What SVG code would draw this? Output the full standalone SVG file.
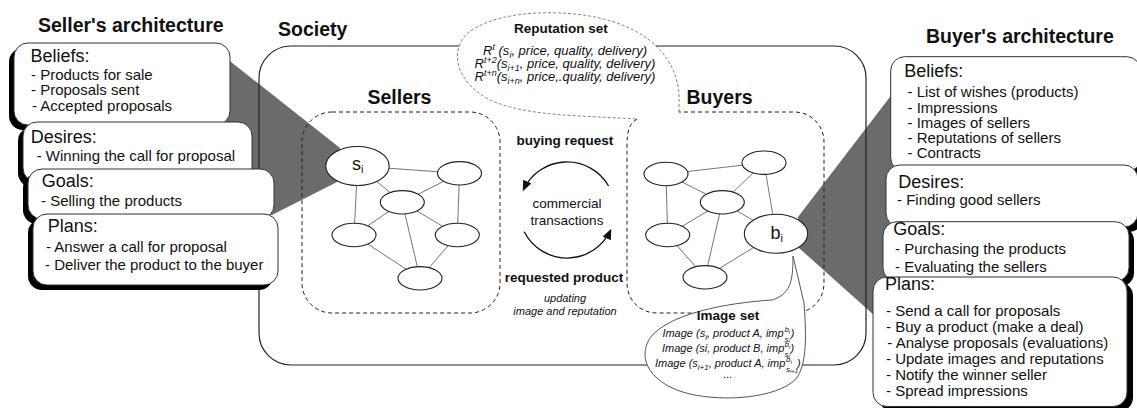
<svg xmlns="http://www.w3.org/2000/svg" width="1137" height="408" viewBox="0 0 1137 408">
<defs>
<style>
text { font-family: "Liberation Sans", Arial, sans-serif; fill: #111; }
.title { font-size: 19.5px; font-weight: bold; }
.hd { font-size: 18px; }
.it { font-size: 15px; }
.box { fill: #fff; stroke: #333; stroke-width: 1; }
.shadow { fill: #000; }
.wedge { fill: #6b6b6b; }
.node { fill: #fff; stroke: #222; stroke-width: 1.1; }
.edge { stroke: #666; stroke-width: 0.9; fill: none; }
.dash { fill: none; stroke: #222; stroke-width: 1; stroke-dasharray: 4 3; }
.bubble { fill: #fff; stroke: #666; stroke-width: 0.8; stroke-dasharray: 3 2; }
.ibubble { fill: #fff; stroke: #444; stroke-width: 0.9; }
.lbl { font-size: 13.5px; font-weight: bold; text-anchor: middle; }
.rep { font-size: 13px; font-style: italic; text-anchor: middle; }
.img { font-size: 11px; font-style: italic; }
.s8 { font-size: 8px; }
.s6 { font-size: 6px; }
.arc { fill: none; stroke: #111; stroke-width: 1.3; }
</style>
<marker id="arr" viewBox="0 0 12 10" refX="10" refY="5" markerWidth="11" markerHeight="9" markerUnits="userSpaceOnUse" orient="auto">
<path d="M0,0 L12,5 L0,10 z" fill="#111"/>
</marker>
</defs>

<!-- wedges -->
<polygon class="wedge" points="226,58 340,148 337,182 272,215 226,215"/>
<polygon class="wedge" points="798,217 893,93 893,278 875,316 799,248"/>

<!-- society -->
<g id="society">
<rect x="259" y="46" width="607" height="319" rx="32" fill="none" stroke="#222" stroke-width="1.2"/>
<text class="title" x="278" y="36">Society</text>
</g>

<!-- reputation set bubble -->
<g id="reputation-set">
<path class="bubble" d="M679,112 L679,95 C677,60 650,22 575,14 C520,9 475,20 462,40 C450,60 462,85 490,100 C515,111 545,114 580,116 L637,119"/>
<text class="lbl" x="561" y="33">Reputation set</text>
<text class="rep" x="565" y="55">R<tspan font-size="9" dy="-5">t</tspan><tspan dy="5"> (s</tspan><tspan font-size="9" dy="3">i</tspan><tspan dy="-3">, price, quality, delivery)</tspan></text>
<text class="rep" x="565" y="68">R<tspan font-size="9" dy="-5">t+2</tspan><tspan dy="5">(s</tspan><tspan font-size="9" dy="3">i+1</tspan><tspan dy="-3">, price, quality, delivery)</tspan></text>
<text class="rep" x="565" y="81">R<tspan font-size="9" dy="-5">t+n</tspan><tspan dy="5">(s</tspan><tspan font-size="9" dy="3">i+n</tspan><tspan dy="-3">, price,.quality, delivery)</tspan></text>
</g>

<!-- groups -->
<g id="sellers">
<rect class="dash" x="302" y="112" width="198" height="201" rx="30"/>
<text class="title" x="367.5" y="104">Sellers</text>
</g>
<g id="buyers">
<path class="dash" d="M637,119 C630,123 627,130 627,145 L627,283 C627,300 640,313 657,313 L794,313 C811,313 824,300 824,283 L824,142 C824,125 811,112 794,112 L679,112"/>
<text class="title" x="686.5" y="104">Buyers</text>
</g>

<!-- connectors -->
<g id="connectors">
<line class="edge" x1="357.5" y1="166" x2="459.5" y2="173.3"/>
<line class="edge" x1="357.5" y1="166" x2="402.3" y2="202.3"/>
<line class="edge" x1="357.5" y1="166" x2="354" y2="235"/>
<line class="edge" x1="459.5" y1="173.3" x2="402.3" y2="202.3"/>
<line class="edge" x1="459.5" y1="173.3" x2="457.3" y2="235"/>
<line class="edge" x1="402.3" y1="202.3" x2="354" y2="235"/>
<line class="edge" x1="402.3" y1="202.3" x2="457.3" y2="235"/>
<line class="edge" x1="402.3" y1="202.3" x2="420" y2="278.3"/>
<line class="edge" x1="354" y1="235" x2="420" y2="278.3"/>
<line class="edge" x1="457.3" y1="235" x2="420" y2="278.3"/>

<line class="edge" x1="666" y1="174" x2="764" y2="162.7"/>
<line class="edge" x1="666" y1="174" x2="722.3" y2="202.3"/>
<line class="edge" x1="666" y1="174" x2="667.7" y2="235"/>
<line class="edge" x1="764" y1="162.7" x2="722.3" y2="202.3"/>
<line class="edge" x1="764" y1="162.7" x2="776" y2="233.7"/>
<line class="edge" x1="722.3" y1="202.3" x2="667.7" y2="235"/>
<line class="edge" x1="722.3" y1="202.3" x2="776" y2="233.7"/>
<line class="edge" x1="722.3" y1="202.3" x2="705" y2="277.3"/>
<line class="edge" x1="667.7" y1="235" x2="705" y2="277.3"/>
<line class="edge" x1="776" y1="233.7" x2="705" y2="277.3"/>

<path class="arc" d="M608.6,186 A48,48 0 0 0 523.5,189.7" marker-end="url(#arr)"/>
<path class="arc" d="M524.2,231.8 A48,48 0 0 0 610.5,230.3" marker-end="url(#arr)"/>
</g>

<g id="transaction-labels">
<text class="lbl" x="565" y="145">buying request</text>
<text x="567" y="208" font-size="13.5" text-anchor="middle">commercial</text>
<text x="567" y="224.5" font-size="13.5" text-anchor="middle">transactions</text>
<text class="lbl" x="564" y="281.7">requested product</text>
<text x="565" y="301.7" font-size="11" font-style="italic" text-anchor="middle">updating</text>
<text x="565" y="315" font-size="11" font-style="italic" text-anchor="middle">image and reputation</text>
</g>

<!-- seller nodes -->
<g id="node-si"><ellipse class="node" cx="357.5" cy="166" rx="31.7" ry="19.5"/><text x="352" y="170" font-size="18">s<tspan font-size="11" dy="3">i</tspan></text></g>
<g id="node-s2"><ellipse class="node" cx="459.5" cy="173.3" rx="22" ry="11.7"/></g>
<g id="node-s3"><ellipse class="node" cx="402.3" cy="202.3" rx="22" ry="11.7"/></g>
<g id="node-s4"><ellipse class="node" cx="354" cy="235" rx="22" ry="11.7"/></g>
<g id="node-s5"><ellipse class="node" cx="457.3" cy="235" rx="22" ry="11.7"/></g>
<g id="node-s6"><ellipse class="node" cx="420" cy="278.3" rx="22" ry="11.7"/></g>

<!-- buyer nodes -->
<g id="node-b1"><ellipse class="node" cx="666" cy="174" rx="22" ry="11.7"/></g>
<g id="node-b2"><ellipse class="node" cx="764" cy="162.7" rx="22" ry="11.7"/></g>
<g id="node-b3"><ellipse class="node" cx="722.3" cy="202.3" rx="22" ry="11.7"/></g>
<g id="node-b4"><ellipse class="node" cx="667.7" cy="235" rx="22" ry="11.7"/></g>
<g id="node-bi"><ellipse class="node" cx="776" cy="233.7" rx="31.7" ry="19.5"/><text x="770.5" y="238.5" font-size="18">b<tspan font-size="11" dy="3">i</tspan></text></g>
<g id="node-b6"><ellipse class="node" cx="705" cy="277.3" rx="22" ry="11.7"/></g>

<!-- image set bubble -->
<g id="image-set">
<path class="ibubble" d="M793,256 C793,283 790,294 772,300 C725,303 668,314 650,338 C636,360 652,385 690,394 C725,402 775,398 795,380 C808,366 806,330 804,303 Z"/>
<text class="lbl" x="728" y="320">Image set</text>
<text class="img" x="662.4" y="337">Image (s</text>
<text class="img s8" x="705.2" y="340">i</text>
<text class="img" x="707" y="337">, product A, imp</text>
<text class="img s8" x="784.4" y="332">b</text>
<text class="img s6" x="788.8" y="333.5">i</text>
<text class="img s8" x="784.4" y="341.5">s</text>
<text class="img s6" x="788.4" y="343">i</text>
<text class="img" x="790.8" y="337">)</text>

<text class="img" x="662" y="352">Image (si, product B, imp</text>
<text class="img s8" x="784.5" y="347">b</text>
<text class="img s6" x="788.9" y="348.5">i</text>
<text class="img s8" x="784.5" y="356.5">s</text>
<text class="img s6" x="788.5" y="358">i</text>
<text class="img" x="790.5" y="352"> )</text>

<text class="img" x="655" y="367">Image (s</text>
<text class="img s8" x="697.8" y="370">i+1</text>
<text class="img" x="708.7" y="367">, product A, imp</text>
<text class="img s8" x="786" y="362">b</text>
<text class="img s6" x="790.4" y="363.5">i</text>
<text class="img s8" x="786" y="371.5">s</text>
<text class="img s6" x="790" y="373">i+1</text>
<text class="img" x="797" y="367"> )</text>
<text class="img" x="728" y="378" text-anchor="middle">...</text>
</g>

<!-- seller architecture -->
<g id="seller-architecture">
<text class="title" x="38" y="32">Seller's architecture</text>
<g id="seller-beliefs">
<rect class="shadow" x="9" y="48" width="217" height="82" rx="14"/>
<rect class="box" x="14" y="43" width="216" height="82" rx="14"/>
<text class="hd" x="30.5" y="61.7">Beliefs:</text>
<text class="it" x="31" y="80">- Products for sale</text>
<text class="it" x="31" y="95">- Proposals sent</text>
<text class="it" x="32" y="110.7">- Accepted proposals</text>
</g>
<g id="seller-desires">
<rect class="shadow" x="18" y="127" width="230" height="60" rx="14"/>
<rect class="box" x="23" y="122" width="229" height="60" rx="14"/>
<text class="hd" x="30.7" y="143.3">Desires:</text>
<text class="it" x="36.7" y="160.7">- Winning the call for proposal</text>
</g>
<g id="seller-goals">
<rect class="shadow" x="23" y="174" width="246" height="50" rx="14"/>
<rect class="box" x="28" y="169" width="246" height="50" rx="14"/>
<text class="hd" x="41.7" y="187.3">Goals:</text>
<text class="it" x="41" y="205.7">- Selling the products</text>
</g>
<g id="seller-plans">
<rect class="shadow" x="28" y="219" width="245" height="71" rx="14"/>
<rect class="box" x="33" y="214" width="245" height="71" rx="14"/>
<text class="hd" x="47.7" y="231.7">Plans:</text>
<text class="it" x="46" y="252.3">- Answer a call for proposal</text>
<text class="it" x="45" y="270">- Deliver the product to the buyer</text>
</g>
</g>

<!-- buyer architecture -->
<g id="buyer-architecture">
<text class="title" x="926" y="42.7">Buyer's architecture</text>
<g id="buyer-beliefs">
<rect class="shadow" x="895.7" y="61.7" width="250" height="115" rx="14"/>
<rect class="box" x="890.7" y="56.7" width="250" height="115" rx="14"/>
<text class="hd" x="904.3" y="76.7">Beliefs:</text>
<text class="it" x="907.5" y="97.3">- List of wishes (products)</text>
<text class="it" x="907.5" y="112.7">- Impressions</text>
<text class="it" x="907.5" y="127.7">- Images of sellers</text>
<text class="it" x="907.5" y="142.7">- Reputations of sellers</text>
<text class="it" x="907.5" y="157.7">- Contracts</text>
</g>
<g id="buyer-desires">
<rect class="shadow" x="891" y="170" width="252" height="62" rx="14"/>
<rect class="box" x="886" y="165" width="252" height="62" rx="14"/>
<text class="hd" x="898.3" y="187.7">Desires:</text>
<text class="it" x="897" y="205">- Finding good sellers</text>
</g>
<g id="buyer-goals">
<rect class="shadow" x="888" y="226.7" width="246" height="60" rx="14"/>
<rect class="box" x="883" y="221.7" width="246" height="60" rx="14"/>
<text class="hd" x="893.3" y="235">Goals:</text>
<text class="it" x="895" y="254">- Purchasing the products</text>
<text class="it" x="895" y="271.7">- Evaluating the sellers</text>
</g>
<g id="buyer-plans">
<rect class="shadow" x="879" y="282" width="254" height="129.5" rx="14"/>
<rect class="box" x="873" y="277" width="254" height="129.5" rx="14"/>
<text class="hd" x="885" y="290">Plans:</text>
<text class="it" x="886" y="316">- Send a call for proposals</text>
<text class="it" x="886" y="331.7">- Buy a product (make a deal)</text>
<text class="it" x="887.3" y="348.3">- Analyse proposals (evaluations)</text>
<text class="it" x="886" y="364">- Update images and reputations</text>
<text class="it" x="886" y="380">- Notify the winner seller</text>
<text class="it" x="886" y="395.7">- Spread impressions</text>
</g>
</g>
</svg>
